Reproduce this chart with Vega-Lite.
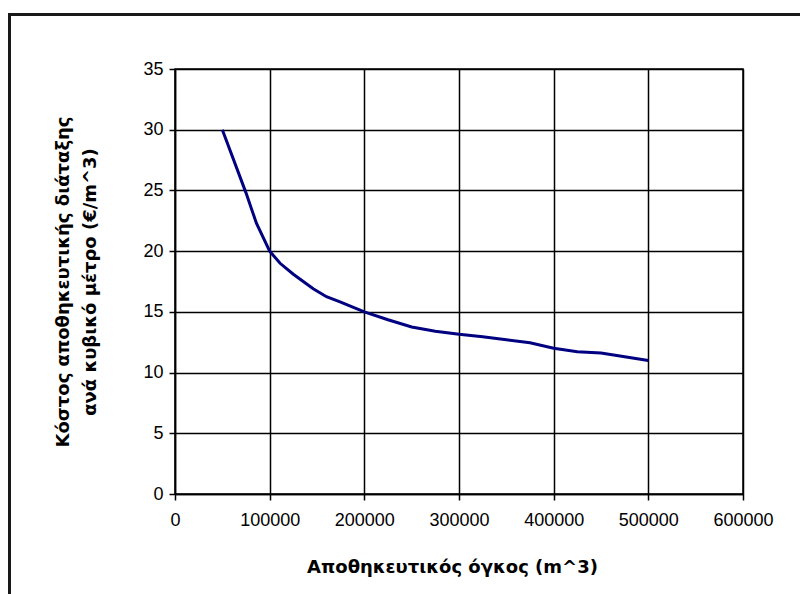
{
  "$schema": "https://vega.github.io/schema/vega-lite/v6.json",
  "width": 568,
  "height": 425,
  "autosize": {"type": "none"},
  "padding": {"left": 175, "top": 69, "right": 57, "bottom": 100},
  "background": "white",
  "config": {
    "view": {"stroke": "black", "strokeWidth": 1.5},
    "font": "Liberation Sans",
    "axis": {
      "grid": true,
      "gridColor": "black",
      "gridWidth": 1.5,
      "gridOpacity": 1,
      "domainColor": "black",
      "domainWidth": 1.5,
      "tickColor": "black",
      "tickWidth": 1.5,
      "tickSize": 6,
      "labelFlush": false,
      "labelOverlap": false,
      "labelFont": "Liberation Sans",
      "labelFontSize": 18,
      "labelColor": "black",
      "titleFont": "DejaVu Sans",
      "titleFontSize": 18,
      "titleFontWeight": "bold",
      "titleColor": "black"
    }
  },
  "data": {
    "values": [
      {"volume": 50000, "cost": 30.0},
      {"volume": 75000, "cost": 24.8},
      {"volume": 86000, "cost": 22.3},
      {"volume": 100000, "cost": 20.0},
      {"volume": 111000, "cost": 19.0},
      {"volume": 125000, "cost": 18.1},
      {"volume": 146000, "cost": 16.9},
      {"volume": 160000, "cost": 16.25},
      {"volume": 175000, "cost": 15.8},
      {"volume": 200000, "cost": 15.0},
      {"volume": 225000, "cost": 14.35},
      {"volume": 250000, "cost": 13.75},
      {"volume": 275000, "cost": 13.4},
      {"volume": 300000, "cost": 13.15},
      {"volume": 325000, "cost": 12.95},
      {"volume": 350000, "cost": 12.7},
      {"volume": 375000, "cost": 12.45},
      {"volume": 400000, "cost": 12.0},
      {"volume": 425000, "cost": 11.72},
      {"volume": 450000, "cost": 11.62},
      {"volume": 475000, "cost": 11.3},
      {"volume": 500000, "cost": 11.0}
    ]
  },
  "layer": [
    {
      "mark": {"type": "rect", "fill": null, "fillOpacity": 0, "stroke": "#1a1a1a", "strokeWidth": 2},
      "encoding": {
        "x": {"datum": -174800, "type": "quantitative"},
        "x2": {"datum": 770000},
        "y": {"datum": 39.5, "type": "quantitative"},
        "y2": {"datum": -17}
      }
    },
    {
      "mark": {"type": "line", "color": "#000080", "strokeWidth": 3},
      "encoding": {
        "x": {
          "field": "volume",
          "type": "quantitative",
          "scale": {"domain": [0, 600000], "nice": false, "zero": true},
          "axis": {
            "title": "Αποθηκευτικός όγκος (m^3)",
            "values": [0, 100000, 200000, 300000, 400000, 500000, 600000],
            "format": "d",
            "labelPadding": 11,
            "titlePadding": 29,
            "titleX": 277
          }
        },
        "y": {
          "field": "cost",
          "type": "quantitative",
          "scale": {"domain": [0, 35], "nice": false},
          "axis": {
            "title": ["Κόστος αποθηκευτικής διάταξης", "ανά κυβικό μέτρο (€/m^3)"],
            "values": [0, 5, 10, 15, 20, 25, 30, 35],
            "labelPadding": 6,
            "titlePadding": 43,
            "titleLineHeight": 27
          }
        }
      }
    }
  ]
}
